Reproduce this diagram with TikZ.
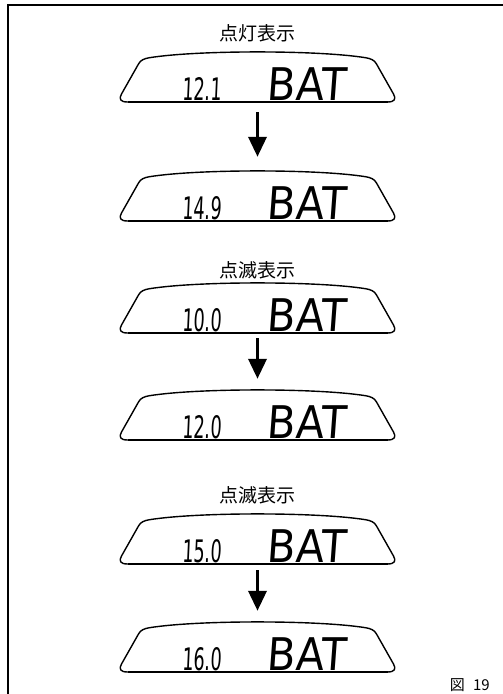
\documentclass[tikz,border=0pt]{standalone}
\usepackage{fontspec}
\usepackage{graphicx}
\usetikzlibrary{arrows.meta}
\newfontfamily\jpfont{Noto Sans CJK JP}
\newfontfamily\lcdfont[FakeSlant=0.08]{DejaVu Sans}
\tikzset{
  displine/.style={line width=1.4pt, line join=round},
  digits/.style={anchor=base west, inner sep=0pt, font=\lcdfont\fontsize{31}{31}\selectfont},
  battext/.style={anchor=base west, inner sep=0pt, font=\lcdfont\fontsize{45}{45}\selectfont},
  titletext/.style={inner sep=0pt, font=\jpfont\fontsize{19}{19}\selectfont},
  bigarrow/.style={line width=3.5pt, -{Triangle[width=18pt,length=20pt]}},
  frameline/.style={line width=1.6pt}
}
\newcommand\lcdbox[3]{%
  \begin{scope}[shift={(257.5,#2)}]
    \draw[displine] (-130,0) -- (130,0)
      .. controls (137,0) and (139,-3) .. (136,-8) -- (119,-38)
      .. controls (117,-42) and (113,-43.5) .. (108,-44.3)
      .. controls (60,-52) and (-60,-52) .. (-108,-44.3)
      .. controls (-113,-43.5) and (-117,-42) .. (-119,-38) -- (-136,-8)
      .. controls (-139,-3) and (-137,0) .. (-130,0) -- cycle;
    \draw[line width=2.4pt] (-130,0) -- (130,0);
    \node[digits] (#1n) at (-75.5,-2) {\scalebox{0.57}[1]{#3}};
    \node[battext] (#1b) at (9,-2) {\scalebox{0.92}[1]{BAT}};
    \node[inner sep=0pt, minimum width=275pt, minimum height=52pt] (#1) at (0,-26) {};
  \end{scope}}
\begin{document}
\begin{tikzpicture}[x=1pt,y=-1pt]
\useasboundingbox (0,0) rectangle (503,694);
\fill[white] (0,0) rectangle (503,694);
\draw[frameline] (8,694) -- (8,5) -- (503,5);

\node[titletext] (t1) at (257.5,33) {点灯表示};
\lcdbox{d1}{102}{12.1}
\lcdbox{d2}{221}{14.9}
\draw[bigarrow] ([yshift=-10pt]d1.south) -- ([yshift=12pt]d2.north);

\node[titletext] (t2) at (257.5,270) {点滅表示};
\lcdbox{d3}{333}{10.0}
\lcdbox{d4}{440}{12.0}
\draw[bigarrow] ([yshift=-5pt]d3.south) -- ([yshift=9pt]d4.north);

\node[titletext] (t3) at (257.5,495) {点滅表示};
\lcdbox{d5}{564}{15.0}
\lcdbox{d6}{672}{16.0}
\draw[bigarrow] ([yshift=-6pt]d5.south) -- ([yshift=9pt]d6.north);

\node[anchor=base east, inner sep=0pt, font=\jpfont\fontsize{15}{15}\selectfont] (fig) at (490,690) {図 \kern5pt19};
\end{tikzpicture}
\end{document}
